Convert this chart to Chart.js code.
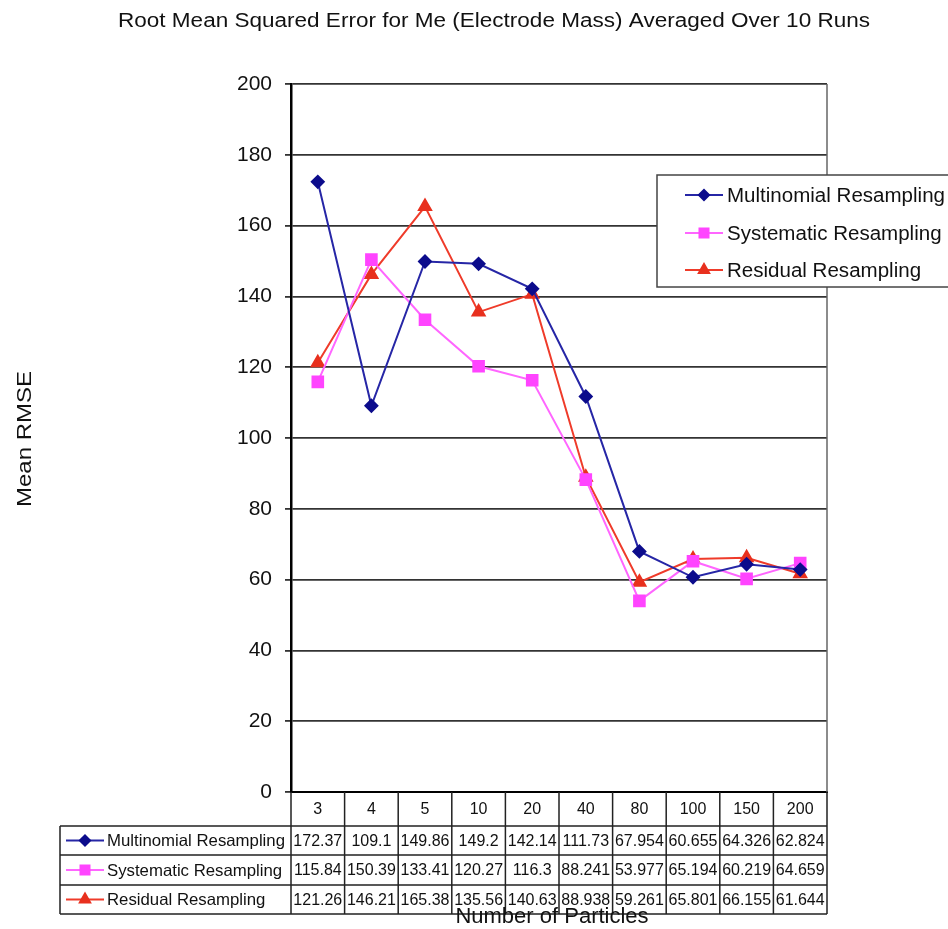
<!DOCTYPE html>
<html>
<head>
<meta charset="utf-8">
<script src="https://cdn.jsdelivr.net/npm/chart.js@4.4.1/dist/chart.umd.min.js"></script>
<style>
  html, body { margin: 0; padding: 0; background: #fff; }
  #wrap { width: 948px; height: 929px; }
</style>
</head>
<body>
<div id="wrap"><canvas id="rmseChart" width="948" height="929"></canvas></div>
<script>
// data
const particles = ['3', '4', '5', '10', '20', '40', '80', '100', '150', '200'];
const multinomial = [172.37, 109.1, 149.86, 149.2, 142.14, 111.73, 67.954, 60.655, 64.326, 62.824];
const systematic = [115.84, 150.39, 133.41, 120.27, 116.3, 88.241, 53.977, 65.194, 60.219, 64.659];
const residual = [121.26, 146.21, 165.38, 135.56, 140.63, 88.938, 59.261, 65.801, 66.155, 61.644];
const seriesNames = ['Multinomial Resampling', 'Systematic Resampling', 'Residual Resampling'];
const yTicks = [0, 20, 40, 60, 80, 100, 120, 140, 160, 180, 200];

const titleText = 'Root Mean Squared Error for Me (Electrode Mass) Averaged Over 10 Runs';
const yTitle = 'Mean RMSE';
const xTitle = 'Number of Particles';

const FONT = '"Liberation Sans", Arial, sans-serif';
const LINE = '#222';

// draw text, optionally stretched horizontally to fill a target width
function stretchText(ctx, text, x, y, size, width, rot, align) {
    ctx.save();
    ctx.font = size + 'px ' + FONT;
    const w = ctx.measureText(text).width;
    ctx.translate(x, y);
    if (rot) ctx.rotate(rot);
    ctx.scale(width ? width / w : 1, 1);
    ctx.textAlign = align || 'center';
    ctx.textBaseline = 'middle';
    ctx.fillStyle = '#111';
    ctx.fillText(text, 0, 0);
    ctx.restore();
}

function drawMarker(ctx, ds, x, y) {
    ctx.save();
    ctx.strokeStyle = ds.borderColor;
    ctx.lineWidth = 2;
    ctx.beginPath();
    ctx.moveTo(x - 19, y);
    ctx.lineTo(x + 19, y);
    ctx.stroke();
    ctx.fillStyle = ds.pointBackgroundColor;
    ctx.strokeStyle = ds.pointBorderColor;
    Chart.helpers.drawPoint(ctx, {
        pointStyle: ds.pointStyle, radius: ds.pointRadius * 0.85, rotation: 0, borderWidth: 1
    }, x, y);
    ctx.restore();
}

// title, axis titles, legend box and the data table
const extrasPlugin = {
    id: 'extras',
    afterDraw(chart) {
        const ctx = chart.ctx;
        const area = chart.chartArea;
        const xs = chart.scales.x;

        stretchText(ctx, titleText, 494, 21, 20, 752);
        stretchText(ctx, yTitle, 25, 439, 21, 136, -Math.PI / 2);

        // right border of plot
        ctx.save();
        ctx.strokeStyle = '#666';
        ctx.lineWidth = 1.5;
        ctx.beginPath();
        ctx.moveTo(area.right, area.top);
        ctx.lineTo(area.right, area.bottom);
        ctx.stroke();
        ctx.restore();

        // legend box
        const lgTop = 175, lgBottom = 287, lgLeft = 657;
        ctx.save();
        ctx.fillStyle = '#fff';
        ctx.fillRect(lgLeft, lgTop, 400, lgBottom - lgTop);
        ctx.strokeStyle = '#444';
        ctx.lineWidth = 1.5;
        ctx.strokeRect(lgLeft, lgTop, 400, lgBottom - lgTop);
        ctx.restore();
        const lgRows = [195, 233, 270];
        chart.data.datasets.forEach((ds, i) => {
            drawMarker(ctx, ds, 704, lgRows[i]);
            ctx.save();
            ctx.font = '20px ' + FONT;
            const w = ctx.measureText(seriesNames[0]).width;
            ctx.translate(727, lgRows[i] + 1);
            ctx.scale(218 / w, 1);
            ctx.textAlign = 'left';
            ctx.textBaseline = 'middle';
            ctx.fillStyle = '#111';
            ctx.fillText(ds.label, 0, 0);
            ctx.restore();
        });

        // data table
        const half = (xs.getPixelForValue(1) - xs.getPixelForValue(0)) / 2;
        const rowLines = [826, 855, 885, 914];
        const tLeft = 60;
        ctx.save();
        ctx.strokeStyle = LINE;
        ctx.lineWidth = 1.5;
        ctx.beginPath();
        rowLines.forEach(y => { ctx.moveTo(tLeft, y); ctx.lineTo(area.right, y); });
        ctx.moveTo(tLeft, rowLines[0]);
        ctx.lineTo(tLeft, rowLines[3]);
        for (let i = 0; i <= particles.length; i++) {
            const x = xs.getPixelForValue(0) - half + i * half * 2;
            ctx.moveTo(x, area.bottom);
            ctx.lineTo(x, rowLines[3]);
        }
        ctx.stroke();
        ctx.restore();

        // header row: category labels
        particles.forEach((p, i) => {
            stretchText(ctx, p, xs.getPixelForValue(i), (area.bottom + rowLines[0]) / 2 + 1, 16);
        });

        chart.data.datasets.forEach((ds, r) => {
            const cy = (rowLines[r] + rowLines[r + 1]) / 2;
            drawMarker(ctx, ds, 85, cy);
            ctx.save();
            ctx.font = '16.5px ' + FONT;
            const w = ctx.measureText(seriesNames[0]).width;
            ctx.translate(107, cy + 1);
            ctx.scale(178 / w, 1);
            ctx.textAlign = 'left';
            ctx.textBaseline = 'middle';
            ctx.fillStyle = '#111';
            ctx.fillText(ds.label, 0, 0);
            ctx.restore();
            ds.data.forEach((v, i) => {
                stretchText(ctx, String(v), xs.getPixelForValue(i), cy + 1, 16);
            });
        });

        stretchText(ctx, xTitle, 552, 917, 22);
    }
};

new Chart(document.getElementById('rmseChart'), {
    type: 'line',
    data: {
        labels: particles,
        datasets: [
            {
                label: seriesNames[0], data: multinomial,
                borderColor: '#2626a6', borderWidth: 2,
                pointStyle: 'rectRot', pointRadius: 6,
                pointBackgroundColor: '#0c0c8c', pointBorderColor: '#0c0c8c'
            },
            {
                label: seriesNames[1], data: systematic,
                borderColor: '#ff66ff', borderWidth: 2,
                pointStyle: 'rect', pointRadius: 7.5,
                pointBackgroundColor: '#ff44ff', pointBorderColor: '#ff44ff'
            },
            {
                label: seriesNames[2], data: residual,
                borderColor: '#ef3b2a', borderWidth: 2,
                pointStyle: 'triangle', pointRadius: 7,
                pointBackgroundColor: '#e8301e', pointBorderColor: '#e8301e'
            }
        ]
    },
    options: {
        responsive: false,
        animation: false,
        layout: { padding: { left: 211, right: 121, top: 84, bottom: 137 } },
        plugins: {
            legend: { display: false },
            title: { display: false },
            tooltip: { enabled: false }
        },
        scales: {
            x: {
                offset: true,
                afterFit: s => { s.height = 0; },
                grid: { display: false, drawTicks: false },
                border: { display: true, color: '#000', width: 2 },
                ticks: { display: false }
            },
            y: {
                min: 0, max: 200,
                afterFit: s => { s.width = 80; },
                afterBuildTicks: s => { s.ticks = yTicks.map(v => ({ value: v })); },
                grid: { color: '#333', lineWidth: 1.8, tickLength: 6, tickColor: '#333' },
                border: { color: '#000', width: 2.5 },
                ticks: {
                    color: '#111', padding: 13,
                    font: { size: 21, family: FONT }
                }
            }
        }
    },
    plugins: [extrasPlugin]
});
</script>
</body>
</html>
